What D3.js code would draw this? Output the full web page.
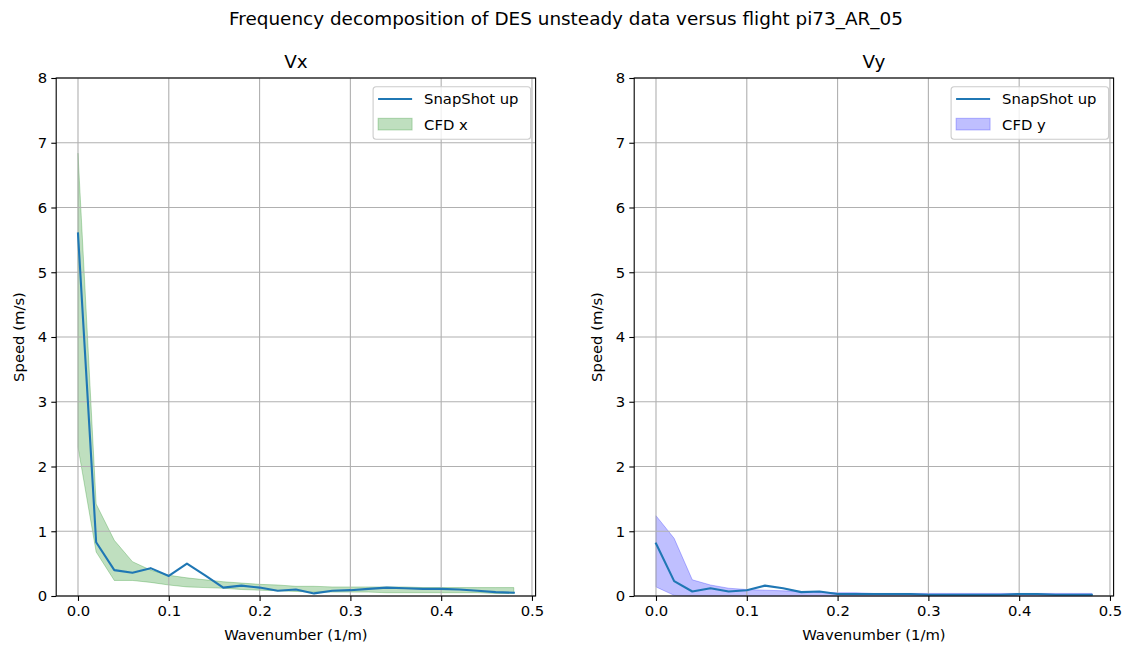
<!DOCTYPE html>
<html>
<head>
<meta charset="utf-8">
<script src="https://cdn.jsdelivr.net/npm/d3@7"></script>
<style>
  html, body { margin: 0; padding: 0; background: #ffffff; }
  svg { display: block; }
  text { font-family: "DejaVu Sans", sans-serif; fill: #000; }
</style>
</head>
<body>
<svg id="fig" width="1129" height="650"></svg>
<script>
// Wavenumber grid (1/m)
const wavenumber = [0.00, 0.02, 0.04, 0.06, 0.08, 0.10, 0.12, 0.14, 0.16, 0.18, 0.20, 0.22,
                    0.24, 0.26, 0.28, 0.30, 0.32, 0.34, 0.36, 0.38, 0.40, 0.42, 0.44, 0.46, 0.48];

// Flight snapshot amplitudes (m/s)
const snapVx = [5.60, 0.83, 0.40, 0.36, 0.43, 0.31, 0.50, 0.32, 0.13, 0.16, 0.13, 0.08,
                0.10, 0.04, 0.08, 0.09, 0.11, 0.13, 0.12, 0.11, 0.11, 0.10, 0.08, 0.06, 0.05];
const snapVy = [0.81, 0.23, 0.07, 0.12, 0.07, 0.09, 0.16, 0.12, 0.06, 0.07, 0.03, 0.03,
                0.03, 0.03, 0.03, 0.02, 0.02, 0.02, 0.02, 0.02, 0.03, 0.03, 0.02, 0.02, 0.02];

// CFD (DES) envelope, min / max over the unsteady samples (m/s)
const cfdVxLow  = [2.30, 0.68, 0.24, 0.24, 0.21, 0.17, 0.14, 0.13, 0.12, 0.10, 0.09, 0.08,
                   0.07, 0.06, 0.06, 0.06, 0.06, 0.05, 0.05, 0.05, 0.05, 0.05, 0.05, 0.04, 0.04];
const cfdVxHigh = [6.84, 1.42, 0.86, 0.53, 0.40, 0.32, 0.28, 0.25, 0.22, 0.20, 0.18, 0.17,
                   0.15, 0.15, 0.14, 0.14, 0.14, 0.14, 0.14, 0.13, 0.13, 0.13, 0.13, 0.13, 0.13];
const cfdVyLow  = [0.14, 0.01, 0.00, 0.00, 0.00, 0.00, 0.00, 0.00, 0.00, 0.00, 0.00, 0.00,
                   0.00, 0.00, 0.00, 0.00, 0.00, 0.00, 0.00, 0.00, 0.00, 0.00, 0.00, 0.00, 0.00];
const cfdVyHigh = [1.24, 0.89, 0.25, 0.17, 0.12, 0.10, 0.09, 0.08, 0.07, 0.06, 0.05, 0.05,
                   0.04, 0.04, 0.04, 0.04, 0.04, 0.04, 0.04, 0.04, 0.04, 0.04, 0.04, 0.04, 0.04];

// Axis ticks
const xTicks = [0.0, 0.1, 0.2, 0.3, 0.4, 0.5];
const yTicks = [0, 1, 2, 3, 4, 5, 6, 7, 8];

const figTitle = "Frequency decomposition of DES unsteady data versus flight pi73_AR_05";
const xLabel = "Wavenumber (1/m)";
const yLabel = "Speed (m/s)";

const svg = d3.select("#fig");
const FS = 14.8;
const TITLE_FS = 18.4;
const LINE_BLUE = "#1f77b4";

svg.append("text")
  .attr("x", 566).attr("y", 24.5)
  .attr("text-anchor", "middle")
  .style("font-size", TITLE_FS + "px")
  .text(figTitle);

function drawPanel(cfg) {
  const top = 78, bottom = 596;
  const xMin = wavenumber[0], xMax = wavenumber[wavenumber.length - 1];
  const pad = (xMax - xMin) * 0.05;
  const x = d3.scaleLinear().domain([xMin - pad, xMax + pad]).range([cfg.left, cfg.right]);
  const y = d3.scaleLinear().domain([0, 8]).range([bottom, top]);

  const g = svg.append("g");

  // CFD envelope
  const rows = wavenumber.map((k, i) => ({ k, lo: cfg.low[i], hi: cfg.high[i], s: cfg.snap[i] }));
  const area = d3.area().x(d => x(d.k)).y0(d => y(d.lo)).y1(d => y(d.hi));
  g.append("path")
    .datum(rows)
    .attr("d", area)
    .attr("fill", cfg.fill).attr("fill-opacity", 0.25)
    .attr("stroke", cfg.fill).attr("stroke-opacity", 0.25).attr("stroke-width", 1);

  // grid
  const grid = g.append("g");
  grid.selectAll("line.gx").data(xTicks).join("line")
    .attr("x1", d => x(d)).attr("x2", d => x(d))
    .attr("y1", top).attr("y2", bottom)
    .attr("stroke", "#b0b0b0").attr("stroke-width", 1.1);
  grid.selectAll("line.gy").data(yTicks).join("line")
    .attr("x1", cfg.left).attr("x2", cfg.right)
    .attr("y1", d => y(d)).attr("y2", d => y(d))
    .attr("stroke", "#b0b0b0").attr("stroke-width", 1.1);

  // snapshot line
  const line = d3.line().x(d => x(d.k)).y(d => y(d.s));
  g.append("path")
    .datum(rows)
    .attr("d", line)
    .attr("fill", "none")
    .attr("stroke", LINE_BLUE).attr("stroke-width", 2.1)
    .attr("stroke-linejoin", "round").attr("stroke-linecap", "square");

  // axes
  const xAxis = d3.axisBottom(x).tickValues(xTicks).tickFormat(d3.format(".1f"))
    .tickSize(4.9).tickPadding(4.2);
  const yAxis = d3.axisLeft(y).tickValues(yTicks).tickFormat(d3.format("d"))
    .tickSize(4.9).tickPadding(4.2);

  const gx = g.append("g").attr("transform", `translate(0,${bottom})`).call(xAxis);
  const gy = g.append("g").attr("transform", `translate(${cfg.left},0)`).call(yAxis);
  [gx, gy].forEach(ax => {
    ax.select(".domain").remove();
    ax.selectAll(".tick line").attr("stroke", "#000").attr("stroke-width", 1.1);
    ax.selectAll(".tick text").style("font-size", FS + "px")
      .style("font-family", "DejaVu Sans, sans-serif").attr("fill", "#000");
  });

  // spines
  g.append("rect")
    .attr("x", cfg.left).attr("y", top)
    .attr("width", cfg.right - cfg.left).attr("height", bottom - top)
    .attr("fill", "none").attr("stroke", "#000").attr("stroke-width", 1.1);

  // title and labels
  g.append("text")
    .attr("x", (cfg.left + cfg.right) / 2).attr("y", top - 10)
    .attr("text-anchor", "middle")
    .style("font-size", TITLE_FS + "px")
    .text(cfg.title);
  g.append("text")
    .attr("x", (cfg.left + cfg.right) / 2).attr("y", 639.5)
    .attr("text-anchor", "middle")
    .style("font-size", FS + "px")
    .text(xLabel);
  g.append("text")
    .attr("transform", `translate(${cfg.left - 32},${(top + bottom) / 2}) rotate(-90)`)
    .attr("text-anchor", "middle")
    .style("font-size", FS + "px")
    .text(yLabel);

  // legend
  const lw = 157.5, lh = 52.5;
  const lx = cfg.right - 5 - lw, ly = top + 8.7;
  const leg = g.append("g").attr("transform", `translate(${lx},${ly})`);
  leg.append("rect")
    .attr("width", lw).attr("height", lh).attr("rx", 3).attr("ry", 3)
    .attr("fill", "#fff").attr("fill-opacity", 0.8)
    .attr("stroke", "#cccccc").attr("stroke-width", 1.1);
  leg.append("line")
    .attr("x1", 5).attr("x2", 39).attr("y1", 12.3).attr("y2", 12.3)
    .attr("stroke", LINE_BLUE).attr("stroke-width", 2.1);
  leg.append("text")
    .attr("x", 51).attr("y", 12.3).attr("dy", "0.36em")
    .style("font-size", FS + "px")
    .text("SnapShot up");
  leg.append("rect")
    .attr("x", 5).attr("y", 31.6).attr("width", 34).attr("height", 11.7)
    .attr("fill", cfg.fill).attr("fill-opacity", 0.25)
    .attr("stroke", cfg.fill).attr("stroke-opacity", 0.25).attr("stroke-width", 1);
  leg.append("text")
    .attr("x", 51).attr("y", 37.5).attr("dy", "0.36em")
    .style("font-size", FS + "px")
    .text(cfg.label);
}

drawPanel({ left: 56.2, right: 535.6, title: "Vx", snap: snapVx, low: cfdVxLow, high: cfdVxHigh,
            fill: "#008000", label: "CFD x" });
drawPanel({ left: 634.2, right: 1113.6, title: "Vy", snap: snapVy, low: cfdVyLow, high: cfdVyHigh,
            fill: "#0000ff", label: "CFD y" });
</script>
</body>
</html>
